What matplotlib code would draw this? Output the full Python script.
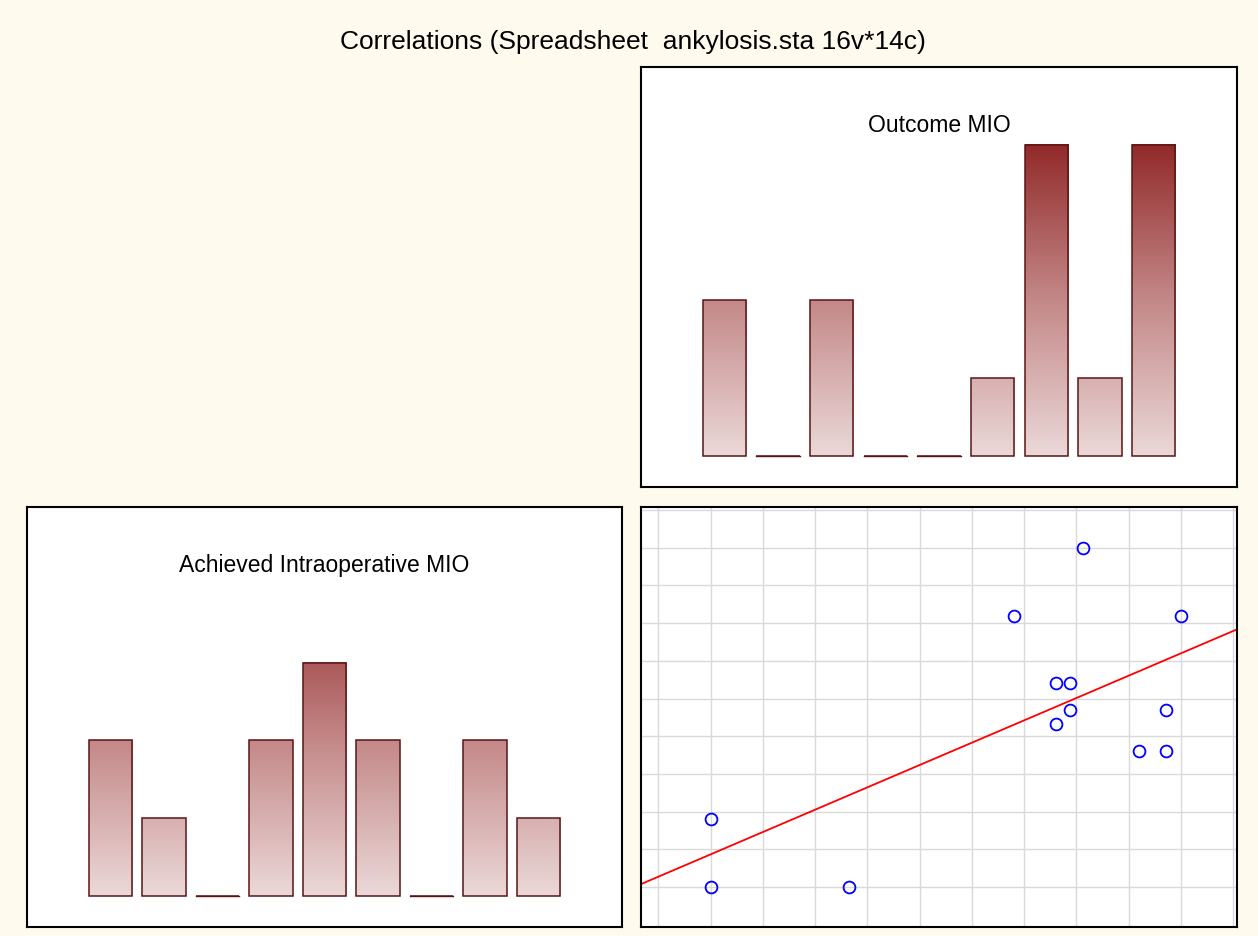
import numpy as np
import matplotlib
matplotlib.use("Agg")
from matplotlib import pyplot as plt
from matplotlib.colors import LinearSegmentedColormap

plt.rcParams['font.family'] = ['Liberation Sans', 'DejaVu Sans']

# histogram counts per class (9 classes each)
outcome_counts = [2, 0, 2, 0, 0, 1, 4, 1, 4]
achieved_counts = [2, 1, 0, 2, 3, 2, 0, 2, 1]

# scatter: Achieved (x) vs Outcome (y), in grid units
scatter_x = [1.0, 1.0, 3.64, 6.81, 8.13, 10.0, 7.6, 7.87, 7.87, 7.6, 9.72, 9.19, 9.72]
scatter_y = [1.81, 0.0, 0.0, 7.2, 9.0, 7.2, 5.42, 5.42, 4.70, 4.33, 4.70, 3.6, 3.6]

title = "Correlations (Spreadsheet  ankylosis.sta 16v*14c)"
outcome_title = "Outcome MIO"
achieved_title = "Achieved Intraoperative MIO"

BG = "#FFFAEE"
EDGE = "#5A1515"
grad = LinearSegmentedColormap.from_list("bars", ["#EBD8D8", "#C48888", "#922A2A"])

fig = plt.figure(figsize=(12.58, 9.37), dpi=100)
fig.patch.set_facecolor(BG)


def frame(ax):
    ax.set_xticks([])
    ax.set_yticks([])
    for s in ax.spines.values():
        s.set_linewidth(1.5)
        s.set_color("black")


def histogram(ax, counts, name):
    n = len(counts)
    pos = np.arange(n)
    width = 0.81
    vmax = 4
    for p, c in zip(pos, counts):
        if c > 0:
            col = np.linspace(0, c, 200).reshape(-1, 1)
            ax.imshow(col, cmap=grad, vmin=0, vmax=vmax, origin="lower", aspect="auto",
                      extent=(p - width / 2, p + width / 2, 0, c), interpolation="bilinear", zorder=1)
    ax.bar(pos, counts, width=width, fill=False, edgecolor=EDGE, linewidth=1.1, zorder=2)
    # empty classes drawn as a line on the baseline
    for p, c in zip(pos, counts):
        if c == 0:
            ax.plot([p - width / 2, p + width / 2], [0, 0], color=EDGE, lw=1.0, zorder=2)
    ax.set_xlim(-1.556, n - 1 + 1.556)
    ax.set_ylim(-0.4, 5.0)
    ax.text(0.5, 0.864, name, transform=ax.transAxes, ha="center", va="center", fontsize=16.5)
    frame(ax)


ax_out = fig.add_axes([641 / 1258, 1 - 488 / 937, 596 / 1258, 420 / 937])
histogram(ax_out, outcome_counts, outcome_title)

ax_ach = fig.add_axes([27 / 1258, 1 - 928 / 937, 595 / 1258, 420 / 937])
histogram(ax_ach, achieved_counts, achieved_title)

ax_sc = fig.add_axes([641 / 1258, 1 - 928 / 937, 596 / 1258, 420 / 937])
ax_sc.set_xlim(-0.33, 11.07)
ax_sc.set_ylim(-1.06, 10.08)
for gx in range(0, 12):
    ax_sc.axvline(gx, color="#D9D9D9", lw=1.0, zorder=0)
for gy in range(0, 11):
    ax_sc.axhline(gy, color="#D9D9D9", lw=1.0, zorder=0)
slope, intercept = np.polyfit(scatter_x, scatter_y, 1)
xs = np.array([-0.33, 11.07])
ax_sc.plot(xs, slope * xs + intercept, color="red", lw=1.3, zorder=2)
ax_sc.plot(scatter_x, scatter_y, "o", mfc="none", mec="blue", mew=1.3, ms=8.5, zorder=3)
frame(ax_sc)

fig.text(0.503, 1 - 42 / 937, title, ha="center", va="center", fontsize=19)

fig.savefig("out.png", dpi=100, facecolor=BG)
